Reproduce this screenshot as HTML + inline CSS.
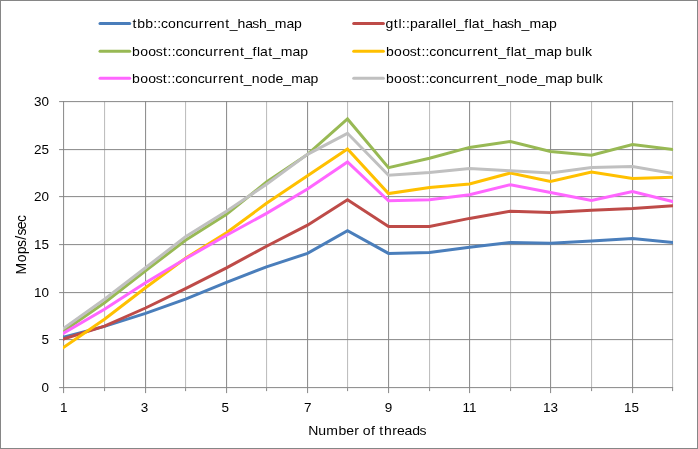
<!DOCTYPE html>
<html lang="en">
<head>
<meta charset="utf-8">
<title>Concurrent hash map benchmark</title>
<style>
html,body{margin:0;padding:0;background:#fff;}
svg{display:block;}
text{font-family:"Liberation Sans",sans-serif;font-size:13px;fill:#000;}
text.d{font-size:12.5px;}
</style>
</head>
<body>
<svg width="698" height="449" viewBox="0 0 698 449">
<rect x="0" y="0" width="698" height="449" fill="#fff"/>
<rect x="0.5" y="0.5" width="697" height="448" fill="none" stroke="#868686" stroke-width="1"/>
<g stroke-width="1" transform="translate(0.1,0.12)">
<line x1="104.5" y1="101" x2="104.5" y2="388" stroke="#B9B9B9"/>
<line x1="104.5" y1="388" x2="104.5" y2="391" stroke="#868686"/>
<line x1="185.5" y1="101" x2="185.5" y2="388" stroke="#B9B9B9"/>
<line x1="185.5" y1="388" x2="185.5" y2="391" stroke="#868686"/>
<line x1="266.5" y1="101" x2="266.5" y2="388" stroke="#B9B9B9"/>
<line x1="266.5" y1="388" x2="266.5" y2="391" stroke="#868686"/>
<line x1="347.5" y1="101" x2="347.5" y2="388" stroke="#B9B9B9"/>
<line x1="347.5" y1="388" x2="347.5" y2="391" stroke="#868686"/>
<line x1="429.5" y1="101" x2="429.5" y2="388" stroke="#B9B9B9"/>
<line x1="429.5" y1="388" x2="429.5" y2="391" stroke="#868686"/>
<line x1="510.5" y1="101" x2="510.5" y2="388" stroke="#B9B9B9"/>
<line x1="510.5" y1="388" x2="510.5" y2="391" stroke="#868686"/>
<line x1="591.5" y1="101" x2="591.5" y2="388" stroke="#B9B9B9"/>
<line x1="591.5" y1="388" x2="591.5" y2="391" stroke="#868686"/>
<line x1="672.5" y1="101" x2="672.5" y2="388" stroke="#B9B9B9"/>
<line x1="672.5" y1="388" x2="672.5" y2="391" stroke="#868686"/>
<line x1="59" y1="387.5" x2="673" y2="387.5" stroke="#868686"/>
<line x1="59" y1="339.5" x2="673" y2="339.5" stroke="#868686"/>
<line x1="59" y1="292.5" x2="673" y2="292.5" stroke="#868686"/>
<line x1="59" y1="244.5" x2="673" y2="244.5" stroke="#868686"/>
<line x1="59" y1="196.5" x2="673" y2="196.5" stroke="#868686"/>
<line x1="59" y1="149.5" x2="673" y2="149.5" stroke="#868686"/>
<line x1="59" y1="101.5" x2="673" y2="101.5" stroke="#868686"/>
<line x1="63.5" y1="101" x2="63.5" y2="393" stroke="#868686"/>
<line x1="145.5" y1="101" x2="145.5" y2="393" stroke="#868686"/>
<line x1="226.5" y1="101" x2="226.5" y2="393" stroke="#868686"/>
<line x1="307.5" y1="101" x2="307.5" y2="393" stroke="#868686"/>
<line x1="388.5" y1="101" x2="388.5" y2="393" stroke="#868686"/>
<line x1="469.5" y1="101" x2="469.5" y2="393" stroke="#868686"/>
<line x1="550.5" y1="101" x2="550.5" y2="393" stroke="#868686"/>
<line x1="632.5" y1="101" x2="632.5" y2="393" stroke="#868686"/>
</g>
<defs><clipPath id="plot"><rect x="63" y="95" width="610" height="300"/></clipPath></defs>
<g fill="none" stroke-width="3" stroke-linejoin="miter" stroke-miterlimit="10" stroke-linecap="square" clip-path="url(#plot)">
<polyline points="63.5,337.3 104.5,326.4 145.5,313.4 185.5,299.1 226.5,282.3 266.5,266.8 307.5,253.4 347.5,230.6 388.5,253.4 429.5,252.4 469.5,247.3 510.5,242.4 550.5,243.3 591.5,241.1 632.5,238.5 672.5,242.4" stroke="#4A7EBB"/>
<polyline points="63.5,339.0 104.5,326.2 145.5,308.0 185.5,288.7 226.5,267.8 266.5,246.2 307.5,225.2 347.5,199.7 388.5,226.5 429.5,226.4 469.5,218.4 510.5,211.2 550.5,212.4 591.5,210.2 632.5,208.6 672.5,205.7" stroke="#BE4B48"/>
<polyline points="63.5,331.1 104.5,302.7 145.5,270.8 185.5,240.3 226.5,214.3 266.5,182.0 307.5,154.4 347.5,119.0 388.5,167.6 429.5,158.3 469.5,147.4 510.5,141.5 550.5,151.5 591.5,155.3 632.5,144.6 672.5,149.4" stroke="#98B954"/>
<polyline points="63.5,347.5 104.5,319.3 145.5,287.7 185.5,258.2 226.5,232.7 266.5,203.3 307.5,175.8 347.5,149.0 388.5,193.6 429.5,187.4 469.5,183.9 510.5,173.0 550.5,181.4 591.5,172.1 632.5,178.6 672.5,177.2" stroke="#FFC000"/>
<polyline points="63.5,333.2 104.5,309.3 145.5,282.7 185.5,258.7 226.5,235.2 266.5,213.4 307.5,189.1 347.5,162.0 388.5,200.8 429.5,199.8 469.5,194.8 510.5,184.7 550.5,192.5 591.5,200.5 632.5,191.6 672.5,201.5" stroke="#FF66FF"/>
<polyline points="63.5,328.4 104.5,299.3 145.5,267.8 185.5,236.7 226.5,211.2 266.5,184.3 307.5,154.4 347.5,133.3 388.5,175.2 429.5,172.5 469.5,168.5 510.5,170.7 550.5,172.9 591.5,167.5 632.5,166.5 672.5,173.5" stroke="#C0C0C0"/>
</g>
<g stroke-width="3" stroke-linecap="round">
<line x1="100" y1="23.4" x2="129.7" y2="23.4" stroke="#4A7EBB"/>
<line x1="100" y1="51.2" x2="129.7" y2="51.2" stroke="#98B954"/>
<line x1="100" y1="78.3" x2="129.7" y2="78.3" stroke="#FF66FF"/>
<line x1="353.7" y1="23.4" x2="383.4" y2="23.4" stroke="#BE4B48"/>
<line x1="353.7" y1="51.2" x2="383.4" y2="51.2" stroke="#FFC000"/>
<line x1="353.7" y1="78.3" x2="383.4" y2="78.3" stroke="#C0C0C0"/>
</g>
<text transform="translate(132.00,28.00) scale(1.0800,1)" x="0.56 4.85 12.28 19.70 23.49 26.93 33.29 40.75 47.82 54.17 61.80 66.74 71.28 78.52 86.41 90.50 97.75 104.86 111.38 117.50 124.74 132.12 142.97 150.07" y="0">tbb::concurrent_hash_map</text>
<text transform="translate(132.00,55.70) scale(1.0800,1)" x="0.12 7.61 15.11 22.01 28.62 32.90 36.71 40.18 46.57 54.06 61.17 67.55 75.22 80.18 84.75 92.02 99.95 104.07 111.59 115.76 118.62 126.22 130.34 137.76 148.65 155.80" y="0">boost::concurrent_flat_map</text>
<text transform="translate(132.00,83.20) scale(1.0800,1)" x="0.11 7.56 15.03 21.89 28.48 32.74 36.53 39.98 46.34 53.79 60.87 67.22 74.86 79.79 84.34 91.58 99.48 103.57 110.81 118.27 125.72 132.96 140.01 147.39 158.24 165.35" y="0">boost::concurrent_node_map</text>
<text transform="translate(385.90,28.00) scale(1.0800,1)" x="-0.27 7.25 11.62 14.78 18.58 22.40 29.53 36.85 41.28 48.48 51.73 54.72 62.05 65.05 72.55 76.71 79.57 87.15 91.26 98.52 105.65 112.19 118.33 125.59 132.99 143.86 150.99" y="0">gtl::parallel_flat_hash_map</text>
<text transform="translate(385.90,55.70) scale(1.0800,1)" x="0.12 7.60 15.09 21.98 28.58 32.87 36.67 40.13 46.52 54.00 61.10 67.47 75.13 80.09 84.65 91.92 99.84 103.95 111.46 115.63 118.49 126.08 130.19 137.60 148.48 155.62 162.77 166.30 173.77 181.30 184.35" y="0">boost::concurrent_flat_map bulk</text>
<text transform="translate(385.90,83.20) scale(1.0800,1)" x="0.11 7.58 15.05 21.93 28.52 32.79 36.59 40.04 46.41 53.88 60.96 67.32 74.97 79.91 84.46 91.72 99.62 103.72 110.98 118.44 125.91 133.16 140.22 147.61 158.47 165.59 172.73 176.25 183.70 191.22 194.27" y="0">boost::concurrent_node_map bulk</text>
<text transform="translate(49.0,391.9) scale(1.08,1)" text-anchor="end" class="d">0</text>
<text transform="translate(49.0,343.9) scale(1.08,1)" text-anchor="end" class="d">5</text>
<text transform="translate(49.0,296.9) scale(1.08,1)" text-anchor="end" class="d">10</text>
<text transform="translate(49.0,248.9) scale(1.08,1)" text-anchor="end" class="d">15</text>
<text transform="translate(49.0,200.9) scale(1.08,1)" text-anchor="end" class="d">20</text>
<text transform="translate(49.0,153.9) scale(1.08,1)" text-anchor="end" class="d">25</text>
<text transform="translate(49.0,105.9) scale(1.08,1)" text-anchor="end" class="d">30</text>
<text transform="translate(63.8,412) scale(1.08,1)" text-anchor="middle" class="d">1</text>
<text transform="translate(144.6,412) scale(1.08,1)" text-anchor="middle" class="d">3</text>
<text transform="translate(225.2,412) scale(1.08,1)" text-anchor="middle" class="d">5</text>
<text transform="translate(307.8,412) scale(1.08,1)" text-anchor="middle" class="d">7</text>
<text transform="translate(388.5,412) scale(1.08,1)" text-anchor="middle" class="d">9</text>
<text transform="translate(469.5,412) scale(1.08,1)" text-anchor="middle" class="d">11</text>
<text transform="translate(550.6,412) scale(1.08,1)" text-anchor="middle" class="d">13</text>
<text transform="translate(631.5,412) scale(1.08,1)" text-anchor="middle" class="d">15</text>
<text transform="translate(308.30,434.50) scale(1.0800,1)" x="-0.14 9.19 16.73 27.87 35.08 42.50 46.91 50.41 58.09 61.83 65.79 70.05 77.66 82.18 89.07 96.15 102.97" y="0">Number of threads</text>
<text transform="translate(26.30,275.00) rotate(-90) scale(0.9844,1)" x="0.58 13.06 21.06 28.42 35.90 40.24 46.59 53.98" y="0" style="font-size:14.2px">Mops/sec</text>
</svg>
</body>
</html>
